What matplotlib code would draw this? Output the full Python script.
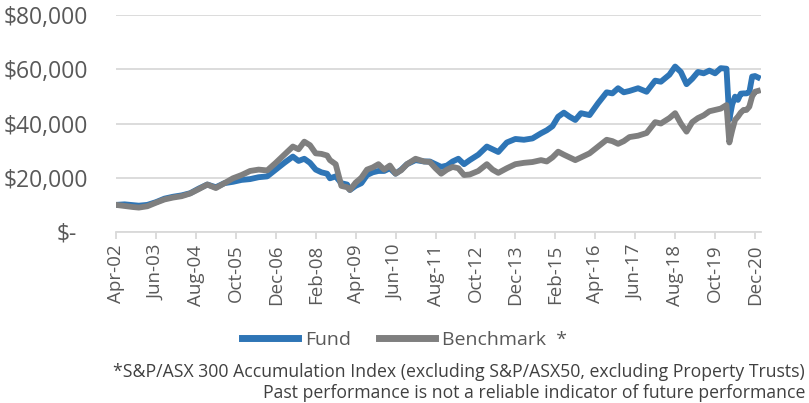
import matplotlib.pyplot as plt
from matplotlib.transforms import ScaledTranslation

plt.rcParams['font.family'] = ['Open Sans', 'DejaVu Sans']

# months since Apr-02
months = [0, 3, 6, 8, 11, 14, 17, 20, 23, 26, 29, 32, 35, 38, 41, 44, 47, 50, 53, 56,
          59, 62, 64, 66, 68, 70, 72, 74, 75, 77, 79, 81, 82, 84, 86, 88, 90, 92, 94, 96,
          98, 100, 102, 105, 108, 110, 112, 114, 116, 118, 120, 122, 124, 127, 130, 132, 134, 137, 140, 143,
          146, 149, 151, 153, 155, 157, 159, 161, 163, 166, 169, 172, 174, 176, 178, 180, 183, 186, 189, 191,
          194, 196, 198, 200, 202, 204, 206, 208, 210, 212, 214, 215, 216, 217, 218, 219, 220, 221, 222, 223,
          224, 225]
fund = [10000, 10200, 9900, 9700, 10000, 11000, 12300, 13000, 13500, 14300, 16000, 17500, 16500, 18000, 18500, 19200, 19500, 20200, 20500, 23000,
        25500, 27800, 26200, 27000, 25500, 23000, 22000, 21500, 19800, 20500, 18000, 17500, 15500, 17000, 18000, 21000, 22000, 22500, 22500, 23500,
        21500, 23000, 25000, 26500, 26000, 26000, 25000, 24000, 24500, 26000, 27000, 25000, 26500, 28500, 31500, 30500, 29500, 33000, 34300, 34000,
        34500, 36400, 37500, 39000, 42500, 44000, 42500, 41300, 43800, 43100, 47500, 51500, 51100, 53000, 51500, 52000, 53000, 51700, 55800, 55400,
        58000, 61000, 59000, 54500, 56500, 59000, 58500, 59500, 58500, 60400, 60200, 41500, 47000, 49900, 48700, 51000, 51100, 51100, 51500, 57300,
        57500, 57000]
bench = [10000, 9600, 9200, 9000, 9500, 10800, 12000, 12700, 13200, 14200, 15800, 17500, 16200, 18000, 19800, 21000, 22500, 23000, 22700, 25500,
         28500, 31500, 30500, 33300, 32000, 29000, 28800, 28200, 26500, 25000, 17000, 16500, 15500, 18200, 20000, 23000, 23800, 25000, 23000, 24500,
         21500, 22800, 25000, 27000, 26000, 25800, 23500, 21500, 23000, 24000, 23500, 21000, 21200, 22500, 25000, 23000, 21800, 23500, 25000, 25500,
         25800, 26500, 26000, 27500, 29600, 28500, 27500, 26500, 27500, 29000, 31500, 34000, 33500, 32500, 33500, 35000, 35500, 36500, 40500, 40000,
         42000, 43800, 40000, 37000, 40500, 42000, 43000, 44500, 45000, 45500, 46800, 33000, 37500, 41300, 42500, 44000, 45000, 45000, 46200, 50000,
         51700, 52000]

tick_months = list(range(0, 225, 14))
tick_labels = ['Apr-02', 'Jun-03', 'Aug-04', 'Oct-05', 'Dec-06', 'Feb-08', 'Apr-09', 'Jun-10', 'Aug-11',
               'Oct-12', 'Dec-13', 'Feb-15', 'Apr-16', 'Jun-17', 'Aug-18', 'Oct-19', 'Dec-20']
y_ticks = [0, 20000, 40000, 60000, 80000]
y_labels = ['$-', '$20,000', '$40,000', '$60,000', '$80,000']

fig = plt.figure(figsize=(8.09, 4.03), dpi=100)
ax = fig.add_axes([116 / 809, 1 - 232 / 403, 645 / 809, 217 / 403])

ax.plot(months, fund, color='#2E75B6', lw=4.2, solid_joinstyle='round', label='Fund')
ax.plot(months, bench, color='#7F7F7F', lw=4.2, solid_joinstyle='round', label='Benchmark  *')

ax.set_xlim(0, 226.1)
ax.set_ylim(0, 80000)
ax.set_yticks(y_ticks)
ax.set_yticklabels(y_labels)
ax.set_xticks(tick_months)
ax.set_xticklabels(tick_labels, rotation=90)

ax.grid(axis='y', color='#D9D9D9', lw=1.3)
ax.set_axisbelow(True)
for s in ['top', 'right', 'left']:
    ax.spines[s].set_visible(False)
ax.spines['bottom'].set_color('#D9D9D9')
ax.spines['bottom'].set_linewidth(1.3)
ax.tick_params(axis='y', length=0, pad=20, labelsize=16.5, labelcolor='#595959')
ax.tick_params(axis='x', length=5, width=1.3, color='#D9D9D9', pad=4, labelsize=13.5, labelcolor='#595959')

# accounting format: the dash sits a bit left of the right edge
lbl = ax.get_yticklabels()[0]
lbl.set_transform(lbl.get_transform() + ScaledTranslation(-0.11, 0, fig.dpi_scale_trans))

leg = fig.legend(loc='center', bbox_to_anchor=(0.50, 1 - 340 / 403), ncol=2, frameon=False,
                 fontsize=14, handlelength=2.9, handletextpad=0.36, columnspacing=1.45, labelcolor='#595959')
for h in leg.get_lines():
    h.set_linewidth(5)

fig.text(805 / 809, 1 - 372 / 403, '*S&P/ASX 300 Accumulation Index (excluding S&P/ASX50, excluding Property Trusts)',
         ha='right', va='center', fontsize=12.7, color='#404040')
fig.text(805 / 809, 1 - 393 / 403, 'Past performance is not a reliable indicator of future performance',
         ha='right', va='center', fontsize=12.7, color='#404040')

fig.savefig('out.png', dpi=100)
